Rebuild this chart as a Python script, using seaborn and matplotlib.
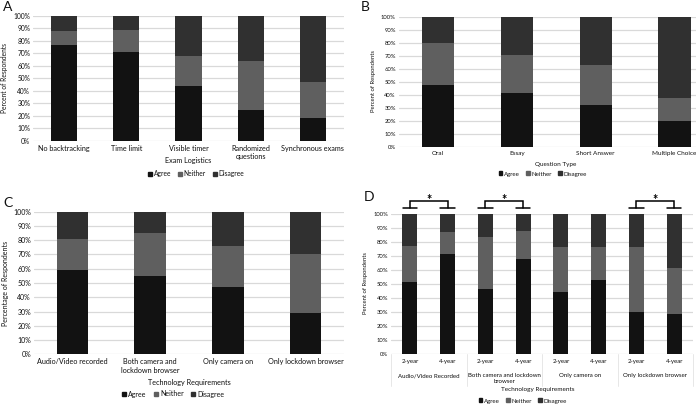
import matplotlib
matplotlib.use("Agg")
import matplotlib.pyplot as plt
import matplotlib.transforms as mtransforms
from matplotlib.patches import Patch
import seaborn as sns
import pandas as pd
import numpy as np

# ---------------- data ----------------
cats_a = ["No backtracking", "Time limit", "Visible timer", "Randomized\nquestions", "Synchronous exams"]
agree_a = [77, 71, 44, 25, 18]
neither_a = [11, 17.5, 24, 39, 29]
disagree_a = [12, 11.5, 32, 36, 53]

cats_b = ["Oral", "Essay", "Short Answer", "Multiple Choice"]
agree_b = [48, 41.5, 32.5, 20]
neither_b = [32, 29.5, 30.5, 17.5]
disagree_b = [20, 29, 37, 62.5]

cats_c = ["Audio/Video recorded", "Both camera and\nlockdown browser", "Only camera on", "Only lockdown browser"]
agree_c = [59, 55, 47.5, 29]
neither_c = [22, 30, 28.5, 41]
disagree_c = [19, 15, 24, 30]

groups_d = ["Audio/Video Recorded", "Both camera and lockdown\nbrowser", "Only camera on", "Only lockdown browser"]
years_d = ["2-year", "4-year"]
agree_d = [51, 71, 46, 68, 44, 53, 30, 28]
neither_d = [26, 16, 37.5, 20, 32, 23, 46, 33.5]
disagree_d = [23, 13, 16.5, 12, 24, 24, 24, 38.5]
significant_d = [True, True, False, True]

legend_labels = ["Agree", "Neither", "Disagree"]

# ---------------- style ----------------
sns.set_theme(style="white")
plt.rcParams["font.family"] = ["Lato", "DejaVu Sans"]
C_AGREE, C_NEITHER, C_DIS = "#121212", "#5f5f5f", "#303030"
GRID = "#d9d9d9"
TXT = "#111111"

W, H = 696, 405
fig = plt.figure(figsize=(W / 100, H / 100), dpi=100)
fig.patch.set_facecolor("white")


def rect(l, t, r, b):
    return [l / W, 1 - b / H, (r - l) / W, (b - t) / H]


def stacked(ax, keys, agree, neither, disagree, width):
    tot = np.array(agree) + np.array(neither) + np.array(disagree)
    an = np.array(agree) + np.array(neither)
    df = pd.DataFrame({"k": keys, "tot": tot, "an": an, "ag": agree})
    for col, c in (("tot", C_DIS), ("an", C_NEITHER), ("ag", C_AGREE)):
        sns.barplot(data=df, x="k", y=col, order=keys, color=c, width=width,
                    saturation=1, ax=ax, zorder=3, linewidth=0)
    ax.set_ylim(0, 100)
    ax.set_yticks(range(0, 101, 10))
    ax.set_yticklabels([f"{v}%" for v in range(0, 101, 10)])
    ax.grid(axis="y", color=GRID, linewidth=0.9, zorder=0)
    ax.grid(axis="x", visible=False)
    for s in ax.spines.values():
        s.set_visible(False)
    ax.tick_params(length=0, pad=2, colors=TXT)
    ax.set_xlabel("")
    ax.set_ylabel("")
    ax.set_facecolor("none")


def legend(cx, cy, fs):
    handles = [Patch(color=c) for c in (C_AGREE, C_NEITHER, C_DIS)]
    fig.legend(handles, legend_labels, loc="center", bbox_to_anchor=(cx / W, 1 - cy / H),
               ncol=3, frameon=False, fontsize=fs, handlelength=0.6, handleheight=0.6,
               handletextpad=0.3, columnspacing=1.0, borderpad=0, labelcolor=TXT)


# ---------------- Panel A ----------------
axA = fig.add_axes(rect(33, 15.7, 344, 141))
stacked(axA, cats_a, agree_a, neither_a, disagree_a, 0.42)
axA.tick_params(axis="y", labelsize=4.8)
axA.tick_params(axis="x", labelsize=5.2, pad=3)
fig.text(5 / W, 1 - 78 / H, "Percent of Respondents", rotation=90, ha="center", va="center", fontsize=4.8, color=TXT)
fig.text(188 / W, 1 - 160 / H, "Exam Logistics", ha="center", va="center", fontsize=5.2, color=TXT)
legend(196, 174, 4.8)
fig.text(3 / W, 1 - 7 / H, "A", fontsize=10, ha="left", va="center", color=TXT)

# ---------------- Panel B ----------------
axB = fig.add_axes(rect(398.6, 17.3, 714, 146.7))
stacked(axB, cats_b, agree_b, neither_b, disagree_b, 0.41)
axB.tick_params(axis="y", labelsize=4.2)
axB.tick_params(axis="x", labelsize=4.6, pad=3)
fig.text(373 / W, 1 - 81 / H, "Percent of Respondents", rotation=90, ha="center", va="center", fontsize=4.2, color=TXT)
fig.text(556 / W, 1 - 164 / H, "Question Type", ha="center", va="center", fontsize=4.6, color=TXT)
legend(543, 174, 4.4)
fig.text(361 / W, 1 - 7 / H, "B", fontsize=10, ha="left", va="center", color=TXT)

# ---------------- Panel C ----------------
axC = fig.add_axes(rect(33.7, 211.7, 344.3, 354.3))
stacked(axC, cats_c, agree_c, neither_c, disagree_c, 0.41)
axC.tick_params(axis="y", labelsize=5.0)
axC.tick_params(axis="x", labelsize=5.2, pad=3)
fig.text(6 / W, 1 - 283 / H, "Percentage of Respondents", rotation=90, ha="center", va="center", fontsize=5.0, color=TXT)
fig.text(189 / W, 1 - 382 / H, "Technology Requirements", ha="center", va="center", fontsize=5.2, color=TXT)
legend(173, 394, 5.0)
fig.text(3 / W, 1 - 203 / H, "C", fontsize=10, ha="left", va="center", color=TXT)

# ---------------- Panel D ----------------
axD = fig.add_axes(rect(391, 214, 693, 353.5))
keys_d = [f"{g}|{y}" for g in groups_d for y in years_d]
stacked(axD, keys_d, agree_d, neither_d, disagree_d, 0.4)
axD.set_xticks(range(len(keys_d)))
axD.set_xticklabels([y for g in groups_d for y in years_d])
axD.tick_params(axis="y", labelsize=4.2)
axD.tick_params(axis="x", labelsize=4.4, pad=4)
axD.set_xlim(-0.5, len(keys_d) - 0.5)
trD = mtransforms.blended_transform_factory(axD.transData, axD.transAxes)
ax_h = 353.5 - 214
px_per_unit_y = ax_h / 100.0
for gi, g in enumerate(groups_d):
    cx = gi * 2 + 0.5
    axD.text(cx, -(373 - 353.5) / ax_h, g, transform=trD, ha="center", va="top",
             fontsize=4.4, color=TXT, linespacing=1.3)
for sx in [-0.5, 1.5, 3.5, 5.5, 7.5]:
    axD.plot([sx, sx], [0, -(386 - 353.5) / ax_h], transform=trD, color="#e3e3e3",
             linewidth=0.6, clip_on=False, zorder=1)
# significance brackets
top_y = 100 + (214 - 200.7) / px_per_unit_y
foot_y = 100 + (214 - 208) / px_per_unit_y
star_base = 100 + (214 - 204.5) / px_per_unit_y
for gi, sig in enumerate(significant_d):
    if not sig:
        continue
    x1, x2 = gi * 2, gi * 2 + 1
    axD.plot([x1, x1, x2, x2], [foot_y, top_y, top_y, foot_y], color="black", linewidth=1.1,
             clip_on=False, zorder=5, solid_joinstyle="miter")
    for xx in (x1, x2):
        axD.plot([xx - 0.19, xx + 0.19], [foot_y, foot_y], color="black", linewidth=1.1,
                 clip_on=False, zorder=5)
    axD.text((x1 + x2) / 2, star_base, "*", ha="center", va="baseline", fontsize=9,
             fontweight="bold", color="black", clip_on=False, zorder=6)
fig.text(366 / W, 1 - 283 / H, "Percent of Respondents", rotation=90, ha="center", va="center", fontsize=4.2, color=TXT)
fig.text(538 / W, 1 - 389 / H, "Technology Requirements", ha="center", va="center", fontsize=4.6, color=TXT)
legend(523, 401, 4.4)
fig.text(364 / W, 1 - 197 / H, "D", fontsize=10, ha="left", va="center", color=TXT)

fig.savefig("out.png", dpi=100, facecolor="white")
